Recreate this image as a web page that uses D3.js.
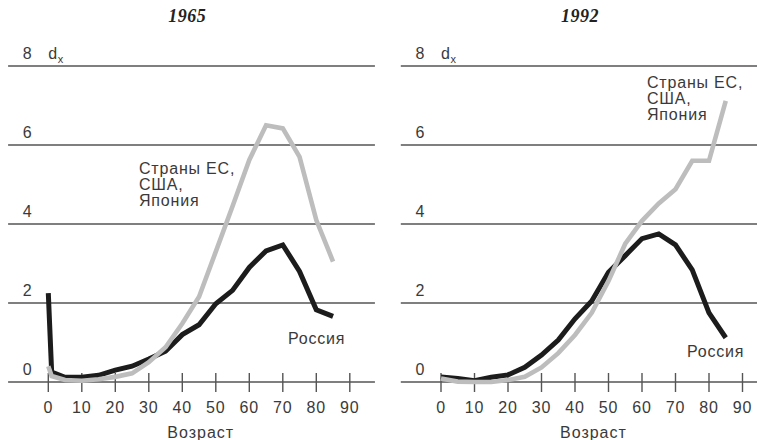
<!DOCTYPE html>
<html>
<head>
<meta charset="utf-8">
<script src="https://cdn.jsdelivr.net/npm/d3@7"></script>
<style>
  html, body { margin: 0; padding: 0; background: #fff; }
  svg text { font-family: "Liberation Sans", Arial, sans-serif; fill: #3a3a3a; }
</style>
</head>
<body>
<svg id="chart" width="757" height="440"></svg>
<script>
// ---- data ----
const panelTitles = ["1965", "1992"];
const xTicks = [0, 10, 20, 30, 40, 50, 60, 70, 80, 90];
const yTicks = [0, 2, 4, 6, 8];
const xAxisLabel = "Возраст";
const yAxisLabel = "d";
const yAxisSub = "x";
const westLabel = ["Страны ЕС,", "США,", "Япония"];
const russiaLabel = "Россия";

const ages1965 = [0, 1, 5, 10, 15, 20, 25, 30, 35, 40, 45, 50, 55, 60, 65, 70, 75, 80, 85];
const russia1965 = [2.25, 0.25, 0.12, 0.12, 0.17, 0.3, 0.4, 0.58, 0.78, 1.2, 1.45, 1.98, 2.32, 2.9, 3.32, 3.47, 2.8, 1.83, 1.66];
const west1965 = [0.4, 0.15, 0.05, 0.03, 0.07, 0.13, 0.22, 0.5, 0.88, 1.48, 2.16, 3.3, 4.45, 5.62, 6.5, 6.42, 5.7, 4.1, 3.05];

const ages1992 = [0, 5, 10, 15, 20, 25, 30, 35, 40, 45, 50, 55, 60, 65, 70, 75, 80, 85];
const russia1992 = [0.13, 0.09, 0.03, 0.12, 0.18, 0.37, 0.68, 1.06, 1.6, 2.05, 2.78, 3.2, 3.63, 3.75, 3.47, 2.84, 1.75, 1.12];
const west1992 = [0.09, 0.01, 0, 0, 0.05, 0.13, 0.37, 0.73, 1.19, 1.75, 2.56, 3.5, 4.08, 4.52, 4.88, 5.6, 5.6, 7.12];

// ---- layout ----
const svg = d3.select("#chart");
const panels = [
  { title: panelTitles[0], x0: 48.3, ages: ages1965, russia: russia1965, west: west1965,
    westPos: [139, 174], russiaPos: [288, 344] },
  { title: panelTitles[1], x0: 441, ages: ages1992, russia: russia1992, west: west1992,
    westPos: [647, 88], russiaPos: [687, 357] }
];
const pxPerYear = 3.35;
const y = d3.scaleLinear().domain([0, 8]).range([382, 66]);

panels.forEach(p => {
  const x = d3.scaleLinear().domain([0, 90]).range([p.x0, p.x0 + 90 * pxPerYear]);
  const g = svg.append("g");

  // title
  g.append("text")
    .attr("x", x(41.5)).attr("y", 22)
    .attr("text-anchor", "middle")
    .style("font-family", "'Liberation Serif', 'DejaVu Serif', serif")
    .style("font-style", "italic").style("font-weight", "bold")
    .style("font-size", "18px").style("letter-spacing", "0.5px").style("fill", "#222")
    .text(p.title);

  // gridlines
  g.selectAll(".grid").data(yTicks).enter().append("line")
    .attr("x1", x(-12)).attr("x2", x(97.5))
    .attr("y1", d => y(d)).attr("y2", d => y(d))
    .attr("stroke", "#555").attr("stroke-width", 1.6);

  // y labels
  g.selectAll(".ylab").data(yTicks).enter().append("text")
    .attr("x", x(0) - 21).attr("y", d => y(d) - 7)
    .attr("text-anchor", "middle")
    .style("font-size", "16px")
    .text(d => d);

  const dx = g.append("text").attr("x", x(0)).attr("y", y(8) - 7).style("font-size", "16px")
    .style("letter-spacing", "0.5px");
  dx.append("tspan").text(yAxisLabel);
  dx.append("tspan").attr("dy", 4).style("font-size", "11px").text(yAxisSub);

  // x ticks
  g.selectAll(".xt").data(xTicks).enter().append("line")
    .attr("x1", d => x(d)).attr("x2", d => x(d))
    .attr("y1", y(0) - 9).attr("y2", y(0) + 10)
    .attr("stroke", "#555").attr("stroke-width", 1.4);
  g.selectAll(".xl").data(xTicks).enter().append("text")
    .attr("x", d => x(d)).attr("y", 413)
    .attr("text-anchor", "middle")
    .style("font-size", "16px").style("letter-spacing", "0.8px")
    .text(d => d);
  g.append("text")
    .attr("x", x(45.5)).attr("y", 438)
    .attr("text-anchor", "middle")
    .style("font-size", "16px").style("letter-spacing", "1px")
    .text(xAxisLabel);

  const line = d3.line().x(d => x(d[0])).y(d => y(d[1]));

  g.append("path")
    .datum(d3.zip(p.ages, p.russia))
    .attr("d", line)
    .attr("fill", "none").attr("stroke", "#1c1c1c").attr("stroke-width", 5)
    .attr("stroke-linejoin", "miter");
  g.append("path")
    .datum(d3.zip(p.ages, p.west))
    .attr("d", line)
    .attr("fill", "none").attr("stroke", "#bdbdbd").attr("stroke-width", 4.6)
    .attr("stroke-linejoin", "miter");

  // labels
  const wl = g.append("text").style("font-size", "16px").style("letter-spacing", "0.8px");
  westLabel.forEach((t, i) => {
    wl.append("tspan").attr("x", p.westPos[0]).attr("y", p.westPos[1] + i * 16).text(t);
  });
  g.append("text").attr("x", p.russiaPos[0]).attr("y", p.russiaPos[1])
    .style("font-size", "16px").style("letter-spacing", "0.8px")
    .text(russiaLabel);
});
</script>
</body>
</html>
